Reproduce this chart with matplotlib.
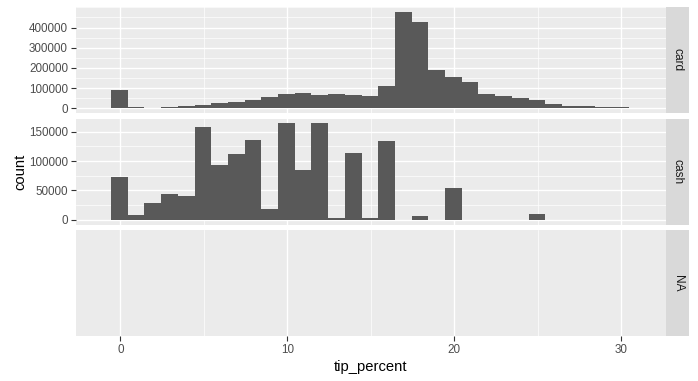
import numpy as np
import matplotlib
matplotlib.use("Agg")
import matplotlib.pyplot as plt
from matplotlib.ticker import MultipleLocator, FixedLocator

plt.rcParams['font.family'] = ['Liberation Sans', 'DejaVu Sans']

# histogram bins of tip_percent (width 1)
bin_left = np.arange(31) - 0.55
bin_width = 1.0

card_counts = [88000, 5000, 0, 5000, 10000, 15000, 25000, 30000, 43000, 55000,
               68000, 73000, 63000, 68000, 63000, 60000, 111000, 478000, 427000, 187000,
               157000, 132000, 72000, 62000, 52000, 42000, 22000, 12000, 12000, 7000,
               7000]
cash_counts = [72700, 7500, 27700, 43300, 39800, 157500, 93500, 111400, 136800, 19000,
               164500, 84800, 164500, 3500, 113000, 3500, 134000, 0, 7000, 0,
               53700, 0, 0, 0, 0, 10400, 0, 0, 0, 0,
               0]
facets = ['card', 'cash', 'NA']

W, H = 698, 381
fig = plt.figure(figsize=(W / 100, H / 100), dpi=100)

panel_left, panel_right = 76, 666
panel_h = 106
panel_tops = [7, 118.5, 230]
strip_w = 23

bg = '#EBEBEB'
bar_col = '#595959'

def px_box(x0, y0, w, h):
    return [x0 / W, 1 - (y0 + h) / H, w / W, h / H]

data = [card_counts, cash_counts, None]
yticks = [[0, 100000, 200000, 300000, 400000], [0, 50000, 100000, 150000], []]

for i, name in enumerate(facets):
    ax = fig.add_axes(px_box(panel_left, panel_tops[i], panel_right - panel_left, panel_h))
    ax.set_facecolor(bg)
    for s in ax.spines.values():
        s.set_visible(False)
    ax.set_xlim(-2.65, 32.68)
    ax.xaxis.set_major_locator(FixedLocator([0, 10, 20, 30]))
    ax.xaxis.set_minor_locator(FixedLocator([5, 15, 25]))
    ax.grid(which='major', axis='x', color='white', lw=1.0)
    ax.grid(which='minor', axis='x', color='white', lw=0.5)
    counts = data[i]
    if counts is not None:
        top = max(counts)
        ax.set_ylim(-0.05 * top, 1.05 * top)
        ax.set_yticks(yticks[i])
        ax.set_yticklabels([str(v) for v in yticks[i]])
        step = yticks[i][1] - yticks[i][0]
        ax.yaxis.set_minor_locator(MultipleLocator(step / 2))
        ax.grid(which='major', axis='y', color='white', lw=1.0)
        ax.grid(which='minor', axis='y', color='white', lw=0.5)
        ax.bar(bin_left, counts, width=bin_width, align='edge', color=bar_col, lw=0, zorder=2)
    else:
        ax.set_ylim(0, 1)
        ax.set_yticks([])
    ax.set_axisbelow(True)
    ax.tick_params(axis='y', which='major', length=3.6, width=0.8, color='#333333',
                   labelsize=8.4, labelcolor='#4D4D4D', pad=2.2)
    ax.tick_params(which='minor', length=0)
    if i == 2:
        ax.tick_params(axis='x', which='major', length=3.6, width=0.8, color='#333333',
                       labelsize=8.4, labelcolor='#4D4D4D', pad=2.2)
    else:
        ax.tick_params(axis='x', which='major', length=0, labelbottom=False)

    sax = fig.add_axes(px_box(panel_right, panel_tops[i], strip_w, panel_h))
    sax.set_facecolor('#D9D9D9')
    sax.set_xticks([])
    sax.set_yticks([])
    for s in sax.spines.values():
        s.set_visible(False)
    sax.text(0.5, 0.5, name, rotation=-90, ha='center', va='center',
             fontsize=8.6, color='#1A1A1A', transform=sax.transAxes)

fig.text(20 / W, 1 - 171.5 / H, 'count', rotation=90, ha='center', va='center',
         fontsize=10.6, color='black')
fig.text(371 / W, 1 - 367 / H, 'tip_percent', ha='center', va='center',
         fontsize=10.6, color='black')

fig.savefig('out.png', dpi=100)
